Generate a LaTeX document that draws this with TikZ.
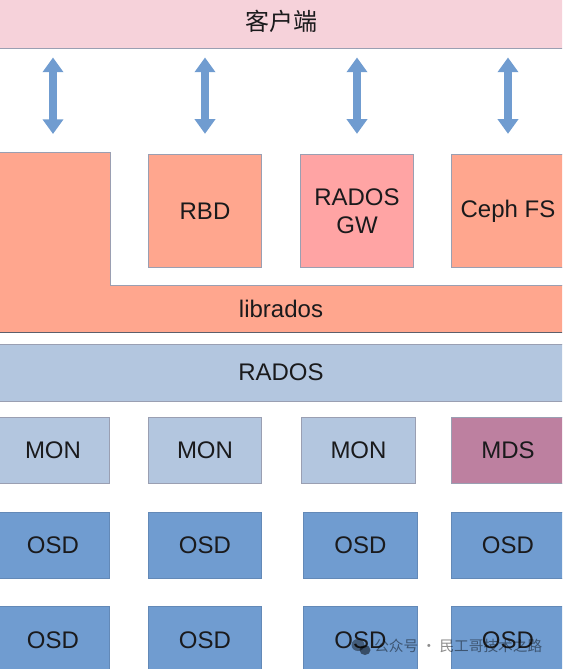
\documentclass[tikz,border=0pt]{standalone}
\usepackage{xcolor}
\usepackage{fontspec}
\setmainfont{Liberation Sans}
\newfontfamily\cjkfont{Noto Sans CJK SC}
\usetikzlibrary{arrows.meta}
\definecolor{clientpink}{HTML}{F6D2DA}
\definecolor{salmon}{HTML}{FFA68E}
\definecolor{gwpink}{HTML}{FFA4A4}
\definecolor{radosblue}{HTML}{B3C6DF}
\definecolor{mdsmauve}{HTML}{BD80A0}
\definecolor{osdblue}{HTML}{709CD0}
\definecolor{edgegrey}{HTML}{9A9FB2}
\definecolor{inkblack}{HTML}{1A1A1C}
\tikzset{
  blockbox/.style={draw=edgegrey, line width=0.75pt, inner sep=0pt, text=inkblack,
    font=\fontsize{18}{21}\selectfont, align=center},
  upperbox/.style={blockbox, minimum width=85pt, minimum height=85pt},
  lowerbox/.style={blockbox, minimum width=85pt, minimum height=49.75pt},
  osdbox/.style={lowerbox, fill=osdblue, draw=osdblue!88!black},
  monbox/.style={lowerbox, fill=radosblue},
  widebar/.style={blockbox, minimum width=424.5pt},
  twoway/.style={{Triangle[width=15pt,length=11pt]}-{Triangle[width=15pt,length=11pt]},
    draw=osdblue, line width=6pt, shorten <=6.75pt, shorten >=15pt},
}
\begin{document}
\begin{tikzpicture}[x=0.75pt, y=-0.75pt]
    \useasboundingbox (0,0) rectangle (562,669);
    \clip (0,0) rectangle (562,669);
    % top bar
    \node[widebar, fill=clientpink, minimum height=40.5pt] (client) at (281,21) {\cjkfont 客户端};
    % gateway row
    \fill[salmon] (-2,152) -- (110,152) -- (110,285) -- (564,285) -- (564,332) -- (-2,332) -- cycle;
    \draw[edgegrey, line width=0.75pt] (-2,152) -- (110,152) -- (110,285) -- (564,285);
    \draw[edgegrey!60!black, line width=0.75pt] (-2,332) -- (564,332);
    \node[text=inkblack, font=\fontsize{18}{21}\selectfont] (librados) at (281,309) {librados};
    \coordinate (direct) at (53,154);
    \node[upperbox, fill=salmon] (rbd) at (205,211) {RBD};
    \node[upperbox, fill=gwpink] (radosgw) at (357,211) {RADOS\\GW};
    \node[upperbox, fill=salmon] (cephfs) at (508,211) {Ceph FS};
    % arrows
    \draw[twoway] (client.south -| direct) -- (direct);
    \draw[twoway] (client.south -| rbd) -- (rbd.north);
    \draw[twoway] (client.south -| radosgw) -- (radosgw.north);
    \draw[twoway] (client.south -| cephfs) -- (cephfs.north);
    % cluster
    \node[widebar, fill=radosblue, minimum height=42.75pt] (rados) at (281,372.5) {RADOS};
    \node[monbox] (mona) at (53,450.5) {MON};
    \node[monbox] (monb) at (205,450.5) {MON};
    \node[monbox] (monc) at (358.5,450.5) {MON};
    \node[lowerbox, fill=mdsmauve] (mds) at (508,450.5) {MDS};
    \node[osdbox] (osda) at (53,545.5) {OSD};
    \node[osdbox] (osdb) at (205,545.5) {OSD};
    \node[osdbox] (osdc) at (360.5,545.5) {OSD};
    \node[osdbox] (osdd) at (508,545.5) {OSD};
    \node[osdbox] (osde) at (53,640) {OSD};
    \node[osdbox] (osdf) at (205,640) {OSD};
    \node[osdbox] (osdg) at (360.5,640) {OSD};
    \node[osdbox] (osdh) at (508,640) {OSD};
    % watermark
    \fill[black, opacity=0.4] (358,645) ellipse (6.5 and 6);
    \fill[black, opacity=0.5] (365,650) ellipse (5.5 and 5);
    \node[text=black, text opacity=0.45, inner sep=0pt, font=\cjkfont\fontsize{11}{13}\selectfont, anchor=west] (mark) at (374,646) {公众号 · 民工哥技术之路};
  \end{tikzpicture}
\end{document}
